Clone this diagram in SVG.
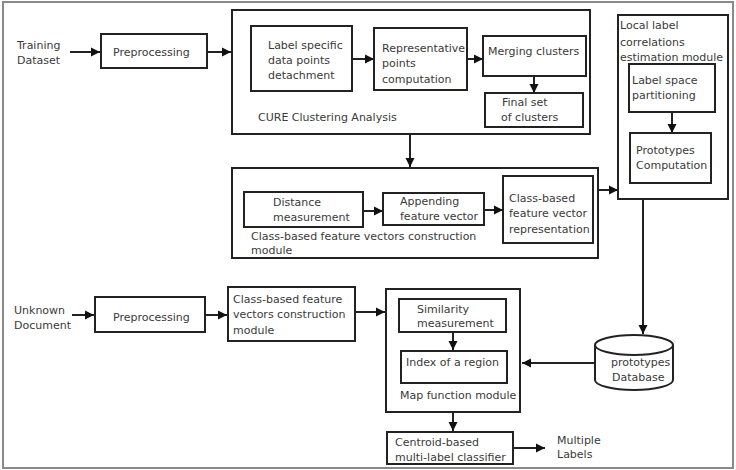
<svg xmlns="http://www.w3.org/2000/svg" width="736" height="470" viewBox="0 0 736 470">
<defs>
<marker id="ah" markerWidth="10" markerHeight="10" refX="9" refY="5" orient="auto" markerUnits="userSpaceOnUse">
<path d="M0,0.5 L9,5 L0,9.5 Z" fill="#111"/>
</marker>
<style>
.b{fill:#fff;stroke:#222;stroke-width:2}
.t{font-family:"DejaVu Sans",Verdana,sans-serif;font-size:11px;fill:#3a3a3a}
.c{fill:none;stroke:#222;stroke-width:2;marker-end:url(#ah)}
.l{fill:none;stroke:#222;stroke-width:2}
</style>
</defs>
<rect x="0" y="0" width="736" height="470" fill="#fff"/>
<rect x="3" y="2" width="730" height="466" fill="none" stroke="#8a8a8a" stroke-width="2"/>

<g id="training-dataset"><text class="t" x="17" y="49">Training</text><text class="t" x="17" y="64">Dataset</text></g>
<g id="preprocessing-1"><rect class="b" x="101" y="34" width="106" height="34"/><text class="t" x="113" y="56">Preprocessing</text></g>

<g id="cure"><rect class="b" x="232" y="10" width="358" height="124"/><text class="t" x="258" y="121">CURE Clustering Analysis</text></g>
<g id="label-specific"><rect class="b" x="251" y="26" width="101" height="65"/><text class="t" x="268" y="49">Label specific</text><text class="t" x="268" y="64">data points</text><text class="t" x="268" y="79">detachment</text></g>
<g id="representative"><rect class="b" x="374" y="28" width="93" height="62"/><text class="t" x="382" y="52">Representative</text><text class="t" x="382" y="67">points</text><text class="t" x="382" y="83">computation</text></g>
<g id="merging"><rect class="b" x="483" y="36" width="103" height="40"/><text class="t" x="488" y="55">Merging clusters</text></g>
<g id="final-set"><rect class="b" x="485" y="93" width="98" height="34"/><text class="t" x="502" y="106">Final set</text><text class="t" x="501" y="121">of clusters</text></g>

<g id="local-label"><rect class="b" x="618" y="15" width="110" height="184"/><text class="t" x="620" y="29">Local label</text><text class="t" x="620" y="46">correlations</text><text class="t" x="620" y="61">estimation module</text></g>
<g id="label-space"><rect class="b" x="629" y="64" width="86" height="48"/><text class="t" x="632" y="84">Label space</text><text class="t" x="632" y="99">partitioning</text></g>
<g id="prototypes-computation"><rect class="b" x="630" y="133" width="81" height="50"/><text class="t" x="636" y="154">Prototypes</text><text class="t" x="636" y="169">Computation</text></g>

<g id="cbfv-module"><rect class="b" x="232" y="168" width="366" height="90"/><text class="t" x="251" y="240">Class-based feature vectors construction</text><text class="t" x="251" y="254">module</text></g>
<g id="distance"><rect class="b" x="244" y="192" width="119" height="35"/><text class="t" x="273" y="206">Distance</text><text class="t" x="273" y="221">measurement</text></g>
<g id="appending"><rect class="b" x="383" y="193" width="101" height="32"/><text class="t" x="400" y="205">Appending</text><text class="t" x="400" y="220">feature vector</text></g>
<g id="cbfv-representation"><rect class="b" x="503" y="176" width="90" height="67"/><text class="t" x="509" y="202">Class-based</text><text class="t" x="509" y="217">feature vector</text><text class="t" x="509" y="233">representation</text></g>

<g id="unknown-document"><text class="t" x="14" y="314">Unknown</text><text class="t" x="14" y="329">Document</text></g>
<g id="preprocessing-2"><rect class="b" x="95" y="297" width="110" height="35"/><text class="t" x="113" y="321">Preprocessing</text></g>
<g id="cbfv-construction"><rect class="b" x="228" y="287" width="127" height="54"/><text class="t" x="233" y="303">Class-based feature</text><text class="t" x="233" y="318">vectors construction</text><text class="t" x="233" y="334">module</text></g>

<g id="map-function"><rect class="b" x="386" y="289" width="134" height="123"/><text class="t" x="400" y="399">Map function module</text></g>
<g id="similarity"><rect class="b" x="399" y="299" width="107" height="33"/><text class="t" x="417" y="313">Similarity</text><text class="t" x="417" y="327">measurement</text></g>
<g id="index-region"><rect class="b" x="401" y="351" width="106" height="32"/><text class="t" x="406" y="366">Index of a region</text></g>

<g id="centroid"><rect class="b" x="387" y="432" width="126" height="32"/><text class="t" x="395" y="446">Centroid-based</text><text class="t" x="395" y="461">multi-label classifier</text></g>
<g id="multiple-labels"><text class="t" x="557" y="444">Multiple</text><text class="t" x="557" y="458">Labels</text></g>

<g id="database">
<path class="b" d="M595,345 A39,10 0 0 1 673,345 L673,380 A39,10 0 0 1 595,380 Z"/>
<path class="l" d="M595,345 A39,10 0 0 0 673,345"/>
<text class="t" x="611" y="366">prototypes</text><text class="t" x="612" y="381">Database</text>
</g>

<g id="connectors">
<line class="c" x1="70" y1="52" x2="100" y2="52"/>
<line class="c" x1="207" y1="52" x2="231" y2="52"/>
<line class="c" x1="352" y1="59" x2="374" y2="59"/>
<line class="c" x1="467" y1="59" x2="483" y2="59"/>
<line class="c" x1="534" y1="76" x2="534" y2="93"/>
<line class="c" x1="410" y1="134" x2="410" y2="167"/>
<line class="c" x1="672" y1="112" x2="672" y2="133"/>
<line class="c" x1="363" y1="211" x2="383" y2="211"/>
<line class="c" x1="484" y1="210" x2="503" y2="210"/>
<line class="c" x1="598" y1="190" x2="618" y2="190"/>
<line class="c" x1="643" y1="199" x2="643" y2="334"/>
<line class="c" x1="595" y1="363" x2="522" y2="363"/>
<line class="c" x1="72" y1="315" x2="94" y2="315"/>
<line class="c" x1="205" y1="315" x2="227" y2="315"/>
<line class="c" x1="355" y1="312" x2="385" y2="312"/>
<line class="c" x1="453" y1="332" x2="453" y2="350"/>
<line class="c" x1="453" y1="412" x2="453" y2="431"/>
<line class="c" x1="513" y1="448" x2="545" y2="448"/>
</g>
</svg>
